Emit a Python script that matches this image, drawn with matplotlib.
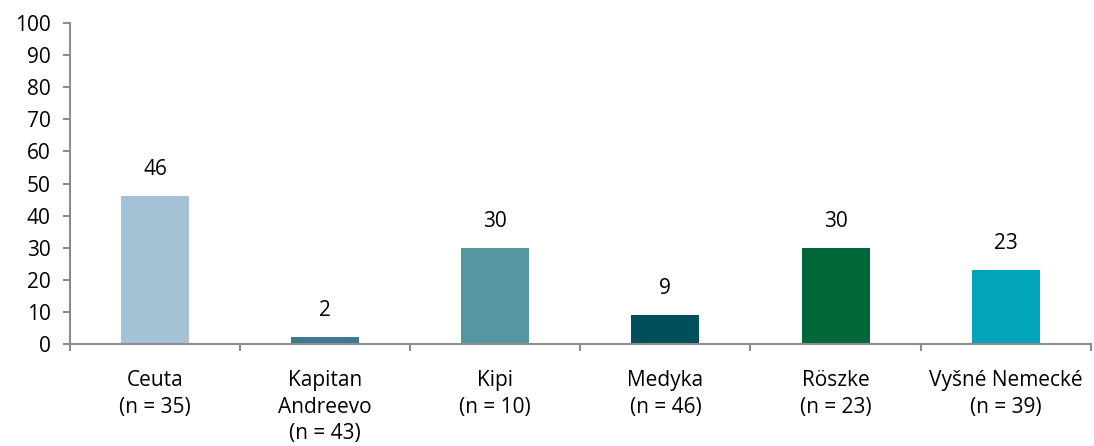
import matplotlib
matplotlib.use("Agg")
import matplotlib.pyplot as plt
import numpy as np

categories = ["Ceuta\n(n = 35)", "Kapitan\nAndreevo\n(n = 43)", "Kipi\n(n = 10)",
              "Medyka\n(n = 46)", "Röszke\n(n = 23)", "Vyšné Nemecké\n(n = 39)"]
values = [46, 2, 30, 9, 30, 23]
colors = ["#A5C1D5", "#3F7893", "#5597A0", "#00505C", "#006838", "#00A5BB"]
yticks = [0, 10, 20, 30, 40, 50, 60, 70, 80, 90, 100]

plt.rcParams['font.family'] = ['Open Sans', 'DejaVu Sans']
FS = 15

fig = plt.figure(figsize=(10.94, 4.46), dpi=100)
ax = fig.add_axes([0.064, 0.229, 0.933, 0.719])

x = np.arange(len(values))
ax.bar(x, values, width=0.4, color=colors, zorder=2)
for xi, v in zip(x, values):
    ax.text(xi, v + 5, str(v), ha="center", va="bottom", fontsize=FS, color="black")

ax.set_xlim(-0.5, len(values) - 0.5)
ax.set_ylim(0, 100)
ax.set_yticks(yticks)
ax.set_yticklabels([str(t) for t in yticks], fontsize=FS)

ax.set_xticks(np.arange(len(values) + 1) - 0.5)
ax.set_xticklabels([])
ax.set_xticks(x, minor=True)
ax.set_xticklabels(categories, minor=True, fontsize=FS, linespacing=1.35)
ax.tick_params(axis="x", which="minor", length=0, pad=19)
ax.tick_params(axis="x", which="major", length=5, width=1.5, color="#8C8C8C", direction="out")
ax.tick_params(axis="y", length=5, width=1.5, color="#8C8C8C", direction="out", pad=9)
for lbl in ax.get_xticklabels(minor=True):
    lbl.set_verticalalignment("top")

for s in ["top", "right"]:
    ax.spines[s].set_visible(False)
for s in ["left", "bottom"]:
    ax.spines[s].set_color("#8C8C8C")
    ax.spines[s].set_linewidth(1.5)

fig.savefig("out.png", dpi=100)
